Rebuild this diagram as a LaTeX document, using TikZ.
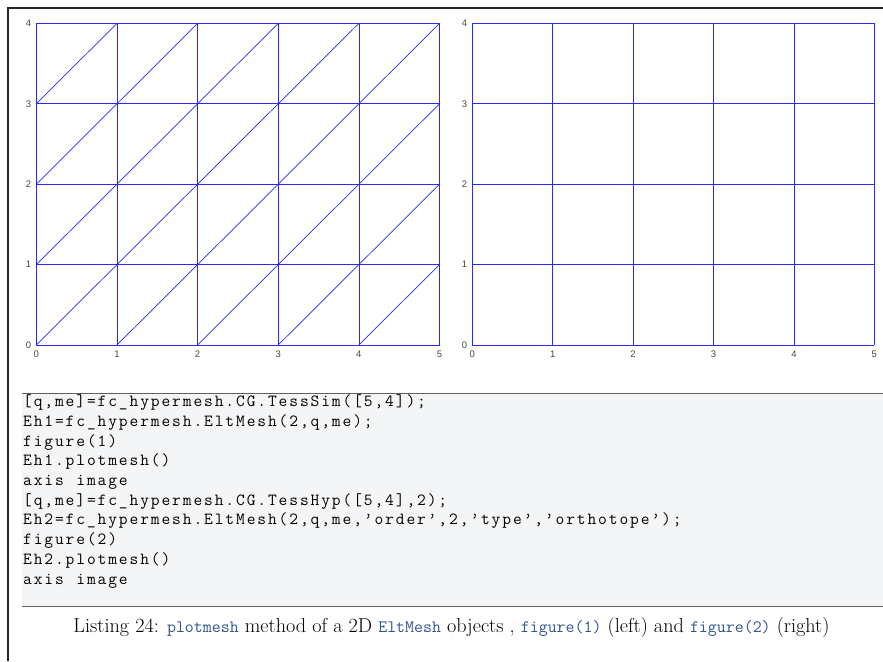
\documentclass[tikz,border=0pt]{standalone}
\usepackage{fontspec}
\newfontfamily\tickfont{Liberation Sans}
\definecolor{meshblue}{RGB}{40,40,255}
\definecolor{codebg}{RGB}{244,245,247}
\definecolor{rulegray}{RGB}{95,95,95}
\definecolor{tickgray}{RGB}{70,70,70}
\definecolor{capblue}{RGB}{50,85,140}
\newlength\cwd
\setlength\cwd{10.65pt}
\def\cl#1{\clloop#1\relax}
\def\clloop#1{\ifx#1\relax\else\makebox[\cwd][c]{#1}\expandafter\clloop\fi}
\newcommand\capcode[1]{{\color{capblue}\ttfamily\fontsize{17.4}{20}\selectfont #1}}
\tikzset{
  mesh/.style={draw=meshblue, line width=0.7pt},
  ticklbl/.style={font=\tickfont\fontsize{9.5}{11}\selectfont, text=tickgray, inner sep=0pt},
  codeline/.style={anchor=base west, inner sep=0pt, font=\ttfamily\fontsize{17}{19}\selectfont},
  frameline/.style={draw=black!85, line width=1.1pt},
}
\begin{document}
\begin{tikzpicture}[x=1pt,y=-1pt]
\useasboundingbox (0,0) rectangle (883,661);
% page frame
\draw[frameline] (8,661) -- (8,8) -- (883,8);
% left mesh (triangles)
\begin{scope}[shift={(36.3,345)}, x=80.64pt, y=80.4pt]
  \foreach \i in {0,...,5} \draw[mesh] (\i,0) -- (\i,4);
  \foreach \j in {0,...,4} \draw[mesh] (0,\j) -- (5,\j);
  \foreach \i in {0,...,4} \foreach \j in {0,...,3} \draw[mesh] (\i,\j) -- (\i+1,\j+1);
  \foreach \i in {0,...,5} \node[ticklbl, anchor=north] (lx\i) at (\i,-0.07) {\i};
  \foreach \j in {0,...,4} \node[ticklbl, anchor=east] (ly\j) at (-0.06,\j) {\j};
\end{scope}
% right mesh (quadrangles)
\begin{scope}[shift={(472.3,345)}, x=80.4pt, y=80.4pt]
  \foreach \i in {0,...,5} \draw[mesh] (\i,0) -- (\i,4);
  \foreach \j in {0,...,4} \draw[mesh] (0,\j) -- (5,\j);
  \foreach \i in {0,...,5} \node[ticklbl, anchor=north] (rx\i) at (\i,-0.07) {\i};
  \foreach \j in {0,...,4} \node[ticklbl, anchor=east] (ry\j) at (-0.06,\j) {\j};
\end{scope}
% code box
\fill[codebg] (22,393.3) rectangle (883,606.5);
\draw[draw=rulegray, line width=1.2pt] (22,393.3) -- (883,393.3);
\draw[draw=rulegray, line width=1.2pt] (22,606.5) -- (883,606.5);
\node[codeline] (c1) at (22,406.7) {\cl{[q,me]=fc\_hypermesh.CG.TessSim([5,4]);}};
\node[codeline] (c2) at (22,426.4) {\cl{Eh1=fc\_hypermesh.EltMesh(2,q,me);}};
\node[codeline] (c3) at (22,446.1) {\cl{figure(1)}};
\node[codeline] (c4) at (22,465.8) {\cl{Eh1.plotmesh()}};
\node[codeline] (c5) at (22,485.5) {\cl{axis~image}};
\node[codeline] (c6) at (22,505.2) {\cl{[q,me]=fc\_hypermesh.CG.TessHyp([5,4],2);}};
\node[codeline] (c7) at (22,524.9) {\cl{Eh2=fc\_hypermesh.EltMesh(2,q,me,’order’,2,’type’,’orthotope’);}};
\node[codeline] (c8) at (22,544.6) {\cl{figure(2)}};
\node[codeline] (c9) at (22,564.3) {\cl{Eh2.plotmesh()}};
\node[codeline] (c10) at (22,584) {\cl{axis~image}};
% caption
\node[anchor=base, inner sep=0pt, font=\fontsize{20.2}{24}\selectfont] (cap) at (451.5,632)
  {Listing 24: \capcode{plotmesh} method of a 2D \capcode{EltMesh} objects , \capcode{figure(1)} (left) and \capcode{figure(2)} (right)};
\end{tikzpicture}
\end{document}
